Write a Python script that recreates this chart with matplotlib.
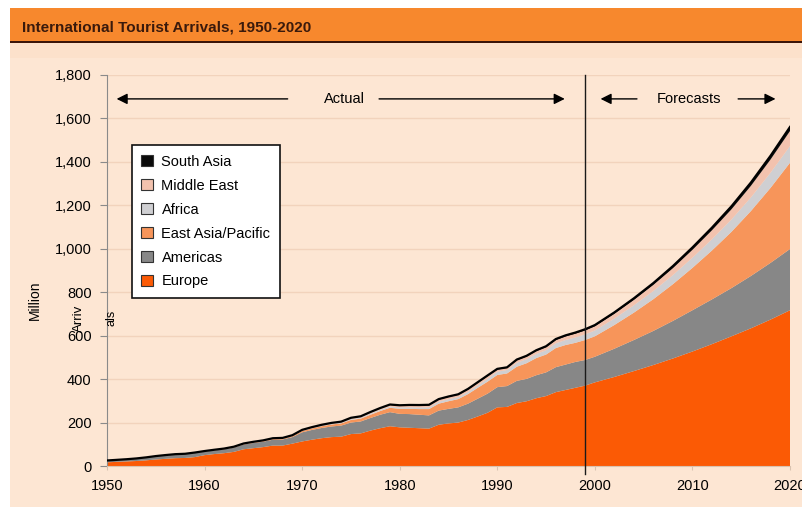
import matplotlib
matplotlib.use('Agg')
import matplotlib.pyplot as plt
import numpy as np
from matplotlib.patches import Patch, Rectangle
from matplotlib.ticker import FuncFormatter

plt.rcParams['font.family'] = ['Liberation Sans', 'DejaVu Sans']

# actual years 1950-1999, then forecast points every 2 years 2000-2020
years = list(range(1950, 2000)) + list(range(2000, 2021, 2))

europe = [17, 19, 21, 23, 26, 30, 33, 36, 37, 41,
          50, 55, 59, 65, 77, 82, 87, 94, 94, 103,
          113, 121, 128, 133, 135, 147, 150, 163, 174, 183,
          178, 176, 174, 172, 190, 196, 200, 212, 228, 245,
          270, 272, 290, 298, 312, 322, 340, 350, 360, 370,
          385, 410, 437, 465, 495, 527, 561, 597, 634, 674, 717]
americas = [7.5, 8.3, 9, 10.5, 12.2, 14, 15.6, 16.6, 17.3, 18.9,
            16.5, 17, 18, 20, 22, 24, 25, 27, 28, 30,
            42, 45, 47, 49, 51, 53, 55, 58, 62, 65,
            62, 63, 62, 61, 65, 67, 70, 75, 82, 88,
            93, 96, 102, 103, 106, 109, 115, 117, 119, 118,
            118, 130, 143, 157, 173, 190, 206, 222, 241, 261, 282]
east_asia = [0.2, 0.2, 0.3, 0.3, 0.4, 0.5, 0.5, 0.6, 0.6, 0.7,
             0.8, 1, 1.2, 1.5, 2, 2.4, 2.8, 3.3, 3.6, 4.5,
             6.2, 7, 8, 9, 10, 12, 13, 15, 17, 20,
             23, 24, 26, 29, 32, 35, 38, 44, 50, 55,
             56, 58, 65, 72, 79, 82, 88, 90, 88, 92,
             94, 109, 126, 146, 169, 195, 225, 259, 299, 345, 397]
africa = [0.5, 0.5, 0.5, 0.6, 0.6, 0.7, 0.7, 0.7, 0.8, 0.8,
          0.8, 0.9, 1, 1.1, 1.3, 1.4, 1.5, 1.7, 1.8, 2,
          2.4, 2.7, 3, 3.2, 3.5, 4.4, 4.6, 5.2, 5.8, 6.3,
          7.2, 7.8, 8.1, 8.5, 9.3, 9.7, 9.4, 10.1, 11.6, 13.7,
          15, 16, 18, 18.5, 19, 20, 22, 23, 25, 26,
          27, 30, 34, 38, 42, 47, 52, 57, 63, 70, 77]
middle_east = [0.2, 0.2, 0.3, 0.3, 0.4, 0.4, 0.5, 0.5, 0.5, 0.5,
               0.6, 0.7, 0.8, 0.9, 1, 1.2, 1.3, 1.4, 1.5, 1.7,
               1.9, 2.2, 2.6, 3, 3.4, 4, 4.6, 5.5, 6, 6.5,
               7.1, 7.9, 8.1, 8.7, 9.1, 9.6, 9.9, 10.7, 10.8, 11.4,
               10, 9, 11.5, 12, 13, 14, 15, 16.5, 17, 18,
               19, 21.6, 24.5, 27.9, 31.7, 36, 41, 46.7, 53, 60.6, 69]
south_asia = [0.1, 0.1, 0.1, 0.1, 0.1, 0.1, 0.1, 0.1, 0.1, 0.1,
              0.2, 0.2, 0.3, 0.3, 0.4, 0.4, 0.4, 0.5, 0.5, 0.6,
              0.9, 1, 1.1, 1.2, 1.3, 1.5, 1.6, 1.9, 2.1, 2.3,
              2.3, 2.4, 2.5, 2.6, 2.7, 2.7, 2.9, 3.2, 3.5, 3.7,
              3.2, 3.3, 3.6, 3.8, 4, 4.3, 4.6, 5, 5.3, 5.5,
              5.8, 6.6, 7.5, 8.5, 9.7, 11, 12.3, 13.9, 15.4, 17.2, 19]

labels = ['Europe', 'Americas', 'East Asia/Pacific', 'Africa', 'Middle East', 'South Asia']
colors = ['#FB5A05', '#878787', '#F7955A', '#CFCFD2', '#F2C2AE', '#0A0A0A']

bg = '#FDE6D3'
fig = plt.figure(figsize=(8.03, 5.07), dpi=100, facecolor='white')
W, H = 803, 507

# page background and title bar
fig.patches.append(Rectangle((10 / W, 0), 793 / W, (H - 8) / H, transform=fig.transFigure,
                             facecolor=bg, edgecolor='none', zorder=-3))
fig.patches.append(Rectangle((10 / W, (H - 42) / H), 793 / W, 34 / H, transform=fig.transFigure,
                             facecolor='#F7882D', edgecolor='none', zorder=-2))
fig.patches.append(Rectangle((10 / W, (H - 43) / H), 793 / W, 1.6 / H, transform=fig.transFigure,
                             facecolor='#3B1408', edgecolor='none', zorder=-1))
fig.patches.append(Rectangle((10 / W, (H - 58) / H), 793 / W, 15 / H, transform=fig.transFigure,
                             facecolor='#FCE1CB', edgecolor='none', zorder=-2))
fig.text(22 / W, (H - 27) / H, 'International Tourist Arrivals, 1950-2020', fontsize=11,
         fontweight='bold', color='#3A1A0C', va='center', ha='left')

ax = fig.add_axes([107 / W, 41 / H, 683 / W, 391 / H])
ax.set_facecolor(bg)
data = np.array([europe, americas, east_asia, africa, middle_east, south_asia])
ax.stackplot(years, data, colors=colors, linewidth=0, zorder=2)
ax.plot(years, data.sum(axis=0), color='black', lw=1.6, zorder=3)

ax.set_xlim(1950, 2020)
ax.set_ylim(0, 1800)
ax.set_xticks(range(1950, 2021, 10))
ax.set_yticks(range(0, 1801, 200))
ax.yaxis.set_major_formatter(FuncFormatter(lambda v, p: '{:,.0f}'.format(v)))
ax.grid(axis='y', color='#F2D3BC', lw=1, zorder=0)
for s in ['top', 'right']:
  ax.spines[s].set_visible(False)
ax.spines['left'].set_color('#8A8A8A')
ax.spines['bottom'].set_color('#D9C3B0')
ax.tick_params(axis='y', length=5, color='#8A8A8A', labelsize=10.5, pad=6)
ax.tick_params(axis='x', length=3, color='#D9C3B0', labelsize=10.5, pad=6)

# actual / forecast split
ax.axvline(1999, ymin=-0.02, ymax=1, color='#1A1A1A', lw=1, zorder=4, clip_on=False)
ay = 1690
ax.text(1974.3, ay, 'Actual', ha='center', va='center', fontsize=10.5)
ax.annotate('', xy=(1950.7, ay), xytext=(1968.8, ay),
            arrowprops=dict(arrowstyle='-|>', color='black', lw=1, mutation_scale=16))
ax.annotate('', xy=(1997.2, ay), xytext=(1977.6, ay),
            arrowprops=dict(arrowstyle='-|>', color='black', lw=1, mutation_scale=16))
ax.text(2009.6, ay, 'Forecasts', ha='center', va='center', fontsize=10.5)
ax.annotate('', xy=(2000.3, ay), xytext=(2004.6, ay),
            arrowprops=dict(arrowstyle='-|>', color='black', lw=1, mutation_scale=16))
ax.annotate('', xy=(2018.8, ay), xytext=(2014.4, ay),
            arrowprops=dict(arrowstyle='-|>', color='black', lw=1, mutation_scale=16))

handles = [Patch(facecolor=c, edgecolor='#333333', lw=0.8) for c in colors][::-1]
leg = ax.legend(handles, labels[::-1], loc='upper left', bbox_to_anchor=(0.036, 0.82),
                frameon=True, fancybox=False, edgecolor='#111111', facecolor='white',
                framealpha=1, fontsize=10.5, handlelength=0.8, handleheight=0.8,
                labelspacing=0.68, borderpad=0.65, handletextpad=0.6, borderaxespad=0)
leg.get_frame().set_linewidth(1.2)
leg.set_zorder(5)

fig.text(35 / W, (H - 300) / H, 'Million', rotation=90, ha='center', va='center', fontsize=10)
fig.text(79 / W, (H - 318) / H, 'Arriv', rotation=90, ha='center', va='center', fontsize=9.5)
fig.text(112 / W, (H - 318) / H, 'als', rotation=90, ha='center', va='center', fontsize=9)

fig.savefig('out.png', dpi=100, facecolor=fig.get_facecolor())
